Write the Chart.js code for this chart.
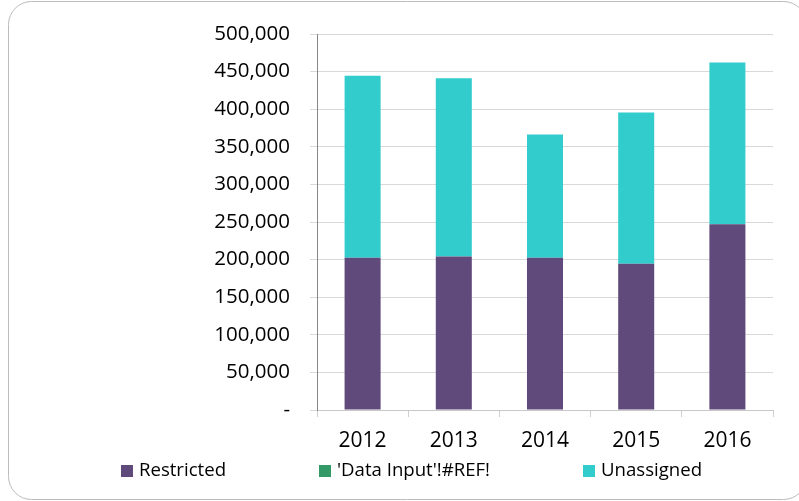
<!DOCTYPE html>
<html><head><meta charset="utf-8">
<script src="https://cdn.jsdelivr.net/npm/chart.js@4/dist/chart.umd.min.js"></script>
<style>html,body{margin:0;padding:0;background:#fff;}canvas{display:block;}</style>
</head><body>
<canvas id="c" width="799" height="501"></canvas>
<script>
// ---- data ----
const years = ['2012', '2013', '2014', '2015', '2016'];
const restricted = [202500, 204000, 202500, 194500, 247000];
const dataInputRef = [0, 0, 0, 0, 0];
const unassigned = [242000, 237000, 164000, 201000, 215000];
const yTickValues = [0, 50000, 100000, 150000, 200000, 250000, 300000, 350000, 400000, 450000, 500000];
const yTickLabels = ['-', '50,000', '100,000', '150,000', '200,000', '250,000', '300,000', '350,000', '400,000', '450,000', '500,000'];
const seriesNames = ['Restricted', "'Data Input'!#REF!", 'Unassigned'];
const seriesColors = ['#604A7B', '#339966', '#33CCCC'];

const FONT = '"Open Sans", "Noto Sans", sans-serif';

const frame = {
  id: 'frame',
  beforeDraw(chart) {
    const ctx = chart.ctx;
    ctx.save();
    ctx.fillStyle = '#fff';
    ctx.fillRect(0, 0, chart.width, chart.height);
    ctx.beginPath();
    ctx.roundRect(8.5, 1.5, 798, 498, 23);
    ctx.strokeStyle = '#bcbcbc';
    ctx.lineWidth = 1;
    ctx.stroke();
    ctx.restore();
  }
};

const excelLegend = {
  id: 'excelLegend',
  afterDraw(chart) {
    const ctx = chart.ctx;
    ctx.save();
    ctx.font = '18.6px ' + FONT;
    ctx.textBaseline = 'middle';
    const items = chart.data.datasets.map(ds => ({
      text: ds.label, color: ds.backgroundColor,
      w: 12 + 6 + ctx.measureText(ds.label).width
    }));
    const gap = 93;
    const total = items.reduce((s, i) => s + i.w, 0) + gap * (items.length - 1);
    let x = 411.5 - total / 2;
    const y = 471;
    items.forEach(it => {
      ctx.fillStyle = it.color;
      ctx.fillRect(Math.round(x), y - 6, 12, 12);
      ctx.fillStyle = '#000';
      ctx.fillText(it.text, x + 18, y);
      x += it.w + gap;
    });
    ctx.restore();
  }
};

new Chart(document.getElementById('c'), {
  type: 'bar',
  data: {
    labels: years,
    datasets: [
      { label: seriesNames[0], data: restricted, backgroundColor: seriesColors[0] },
      { label: seriesNames[1], data: dataInputRef, backgroundColor: seriesColors[1] },
      { label: seriesNames[2], data: unassigned, backgroundColor: seriesColors[2] }
    ]
  },
  options: {
    responsive: false,
    animation: false,
    layout: { padding: { top: 34, right: 26, bottom: 0, left: 0 } },
    datasets: { bar: { categoryPercentage: 1, barPercentage: 0.395, borderWidth: 0 } },
    plugins: { legend: { display: false }, tooltip: { enabled: false } },
    scales: {
      x: {
        stacked: true,
        afterFit(s) { s.height = 91; },
        grid: { offset: true, drawOnChartArea: false, drawTicks: true, tickLength: 7, color: '#d0d0d0' },
        border: { color: '#c8c8c8' },
        ticks: { color: '#000', padding: 11, font: { family: FONT, size: 21 } }
      },
      y: {
        stacked: true,
        min: 0, max: 500000,
        afterFit(s) { s.width = 317; },
        afterBuildTicks(s) { s.ticks = yTickValues.map(v => ({ value: v })); },
        grid: { color: '#d9d9d9', tickLength: 7 },
        border: { color: '#868686' },
        ticks: {
          color: '#000', padding: 20, font: { family: FONT, size: 20.5 },
          callback: (v) => yTickLabels[yTickValues.indexOf(v)]
        }
      }
    }
  },
  plugins: [frame, excelLegend]
});
</script>
</body></html>
